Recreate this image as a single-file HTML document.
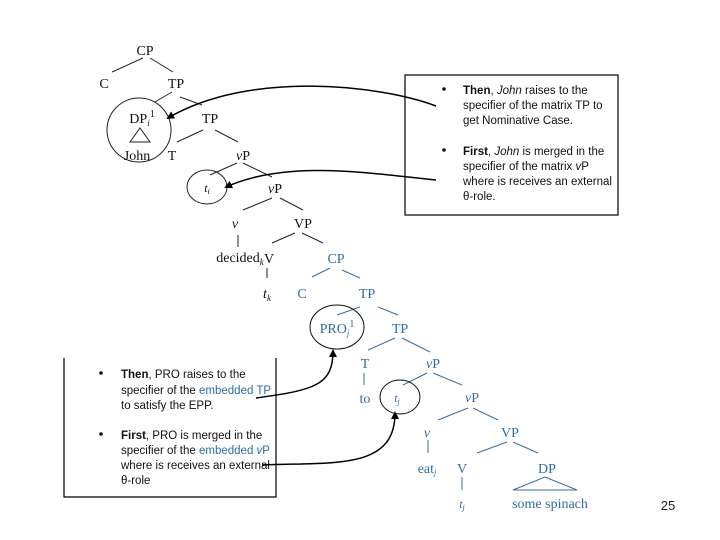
<!DOCTYPE html>
<html><head><meta charset="utf-8"><style>
body{margin:0;background:#fff}
svg{display:block}
.s{font-family:"Liberation Serif",serif;font-size:14px}
.a{font-family:"Liberation Sans",sans-serif;font-size:11.5px}
</style></head><body>
<svg width="720" height="540" viewBox="0 0 720 540" xmlns="http://www.w3.org/2000/svg">
<defs><marker id="ah" markerWidth="8" markerHeight="8" refX="6" refY="4" orient="auto" markerUnits="userSpaceOnUse"><path d="M0,0 L8,4 L0,8z" fill="#000"/></marker></defs>
<rect x="405" y="75" width="213" height="140" fill="none" stroke="#000" stroke-width="1.2"/>
<path d="M64,358 V497 H276 V358" fill="none" stroke="#000" stroke-width="1.2"/>
<g class="a" fill="#111">
<circle cx="444" cy="89" r="1.8"/><circle cx="444" cy="150" r="1.8"/>
<text x="463" y="94"><tspan font-weight="bold">Then</tspan>, <tspan font-style="italic">John</tspan> raises to the</text>
<text x="463" y="109">specifier of the matrix TP to</text>
<text x="463" y="124">get Nominative Case.</text>
<text x="463" y="155"><tspan font-weight="bold">First</tspan>, <tspan font-style="italic">John</tspan> is merged in the</text>
<text x="463" y="170">specifier of the matrix <tspan font-style="italic">v</tspan>P</text>
<text x="463" y="185">where is receives an external</text>
<text x="463" y="200">θ-role.</text>
<circle cx="101" cy="373" r="1.8"/><circle cx="101" cy="434" r="1.8"/>
<text x="121" y="378"><tspan font-weight="bold">Then</tspan>, PRO raises to the</text>
<text x="121" y="394">specifier of the <tspan fill="#2e6da4">embedded TP</tspan></text>
<text x="121" y="409">to satisfy the EPP.</text>
<text x="121" y="439"><tspan font-weight="bold">First</tspan>, PRO is merged in the</text>
<text x="121" y="454">specifier of the <tspan fill="#2e6da4">embedded <tspan font-style="italic">v</tspan>P</tspan></text>
<text x="121" y="469">where is receives an external</text>
<text x="121" y="484">θ-role</text>
</g>
<g stroke="#222" stroke-width="1" fill="none">
<path d="M112,72 L143,58 M150,58 L173,72"/>
<path d="M155,102 L172,92 M180,97 L202,105"/>
<path d="M130,142 L150,142 L140,128Z"/>
<path d="M177,142 L203,130 M215,130 L238,142"/>
<path d="M210,175 L237,163 M243,163 L272,177"/>
<path d="M243,210 L272,198 M280,198 L303,210"/>
<path d="M238,235 V247 M272,243 L295,233 M302,233 L323,243 M267,268 V278"/>
<ellipse cx="139" cy="130" rx="32" ry="32"/>
<ellipse cx="207" cy="187" rx="20" ry="17"/>
</g>
<g class="s" fill="#111" text-anchor="middle">
<text x="145" y="55">CP</text><text x="104" y="88">C</text><text x="176" y="88">TP</text>
<text x="142" y="123">DP<tspan font-size="9" dy="3" font-style="italic">i</tspan><tspan font-size="10" dy="-9">1</tspan></text>
<text x="210" y="123">TP</text>
<text x="137" y="160">John</text><text x="172" y="160">T</text><text x="243" y="160"><tspan font-style="italic">v</tspan>P</text>
<text x="207" y="192" font-style="italic" font-size="12">t<tspan font-size="8" dy="2">i</tspan></text>
<text x="275" y="193"><tspan font-style="italic">v</tspan>P</text>
<text x="235" y="228" font-style="italic">v</text><text x="303" y="228">VP</text>
<text x="240" y="262">decided<tspan font-size="9" dy="3" font-style="italic">k</tspan></text>
<text x="269" y="263">V</text>
<text x="267" y="298" font-style="italic">t<tspan font-size="9" dy="3">k</tspan></text>
</g>
<g stroke="#3a6e9c" stroke-width="1" fill="none">
<path d="M312,277 L330,268 M342,270 L360,278"/>
<path d="M337,315 L360,307 M378,307 L398,315"/>
<path d="M368,350 L395,338 M402,338 L430,352 M364,373 V385"/>
<path d="M403,385 L427,373 M433,373 L462,385"/>
<path d="M438,420 L468,408 M473,408 L498,420 M428,440 V453"/>
<path d="M477,453 L507,442 M513,442 L538,453 M462,477 V490"/>
<path d="M513,490 L577,490 L545,477Z"/>
</g>
<g stroke="#111" stroke-width="1" fill="none">
<ellipse cx="337" cy="327" rx="27" ry="22"/>
<ellipse cx="400" cy="397" rx="20" ry="17"/>
</g>
<g class="s" fill="#2e6da4" text-anchor="middle">
<text x="336" y="263">CP</text><text x="302" y="298">C</text><text x="367" y="298">TP</text>
<text x="337" y="333">PRO<tspan font-size="9" dy="3" font-style="italic">j</tspan><tspan font-size="10" dy="-9">1</tspan></text>
<text x="400" y="333">TP</text>
<text x="365" y="368">T</text><text x="433" y="368"><tspan font-style="italic">v</tspan>P</text>
<text x="365" y="403">to</text>
<text x="397" y="402" font-style="italic" font-size="12">t<tspan font-size="8" dy="2">j</tspan></text>
<text x="472" y="402"><tspan font-style="italic">v</tspan>P</text>
<text x="427" y="437" font-style="italic">v</text><text x="510" y="437">VP</text>
<text x="427" y="473">eat<tspan font-size="8" dy="2" font-style="italic">j</tspan></text>
<text x="462" y="473">V</text><text x="547" y="473">DP</text>
<text x="462" y="508" font-style="italic" font-size="12">t<tspan font-size="8" dy="2">j</tspan></text>
<text x="550" y="508">some spinach</text>
</g>
<g stroke="#000" stroke-width="1.5" fill="none" marker-end="url(#ah)">
<path d="M436,106 C380,85 250,70 168,118"/>
<path d="M436,180 C380,175 290,158 226,187"/>
<path d="M256,398 C315,390 333,385 333,351"/>
<path d="M262,465 C335,462 395,470 395,413"/>
</g>
<text x="668" y="510" font-family="Liberation Sans,sans-serif" font-size="13" text-anchor="middle" fill="#222">25</text>
</svg>
</body></html>
